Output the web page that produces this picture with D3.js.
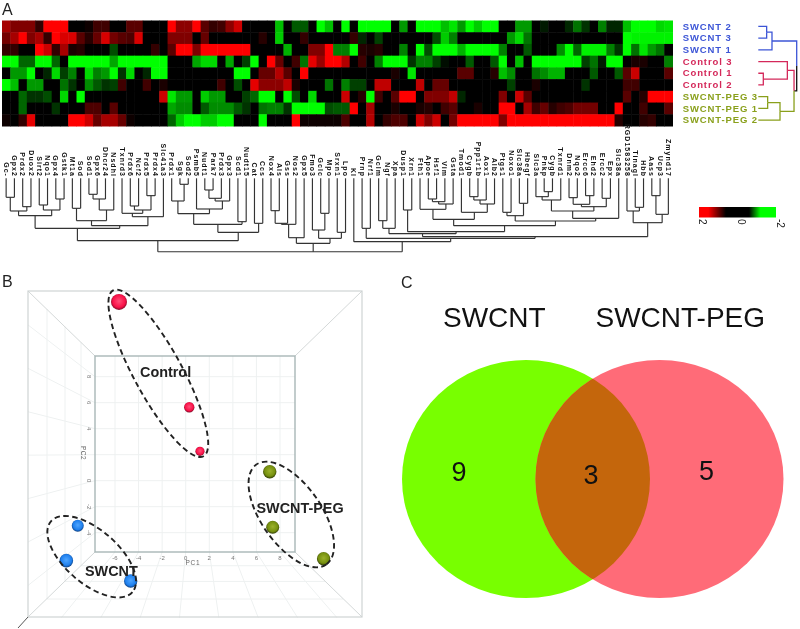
<!DOCTYPE html>
<html><head><meta charset="utf-8">
<script src="https://cdnjs.cloudflare.com/ajax/libs/d3/7.8.5/d3.min.js"></script>
<style>html,body{margin:0;padding:0;background:#fff}svg{display:block;filter:blur(.45px)}text{font-family:"Liberation Sans",Arial,sans-serif}</style>
</head><body><div id="chart"></div>
<script>
// ---------- Panel A data ----------
const rowLabels = ["SWCNT 2","SWCNT 3","SWCNT 1","Control 3","Control 1","Control 2","SWCNT-PEG 3","SWCNT-PEG 1","SWCNT-PEG 2"];
const rowGroups = ["SWCNT","SWCNT","SWCNT","Control","Control","Control","PEG","PEG","PEG"];
const geneLabels = ["Gc-","Gpx2","Prdx2","Duox2","Sirt2","Nqo1","Gpx4","Gstk1","Mt1a","Sod","Sod1","Gpx6","Dhcr24","Nsdhl","Txnrd3","Prdx6","Ncf2","Prdx5","Prdx4","Slc41a3","Prdx1","Sgk","Sod2","Psmb5","Nudt1","Park7","Prdx3","Gpx3","Scd1","Nudt15","Cat","Ccs","Nox4","Als","Gss","Nos2","Gpx5","Fmo3","Gclc","Mpo","Srxn1","Lpo","Kl","Prnp","Nrf1","Gclm","Ngf","Xpa","Dusp1","Xrn1","Fth1","Apoe","Hsf1","Vim","Gsta","Tmod1","Cygb","Ppp1r1b","Aox1","Alb2","Ptgs1","Noxo1","Slc38a","Hbegf","Slc3a","Pnkp","Cygb","Txnrd1","Dnm2","Nqo2","Ercc6","Ehd2","Ercc2","Epx","Slc38a","RGD1583258","Tinagl","Hbb","Aass","Ucp3","Zmynd17"];
const row0 = [1.3,1,1,1,.4,2,2,2,0,0,
 .1,.5,.5,0,0,.7,.7,0,0,0,
 2,1.1,1.1,2,.7,.4,.5,1.1,1.6,0,
 0,0,0,-1.5,0,-.7,-.7,0,-2,-1.5,
 0,-2,0,-2,-2,-2,-2,0,-1.2,0,
 -2,-2,-2,-1.5,-1.8,-1.2,-2,-1.6,-2,-2,
 0,0,-1.2,-1.2,0,-.2,0,0,-.3,-.9,
 -.4,0,-1,-.3,-.3,-1.5,-2,-2,-2,-1.7,
 -1.8];
const row1 = [.9,1.3,2,1,1.3,.4,2,1.7,1.7,.7,
 .3,.8,1.7,.9,.7,.6,1.7,0,0,0,
 1,1,1,0,.8,0,0,0,0,0,
 0,.3,0,-1.6,0,0,.4,0,0,0,
 0,0,.4,-.3,0,-.5,0,0,0,0,
 0,0,-.6,-1.6,-1,0,0,0,0,0,
 0,-1.2,-1.7,-.9,0,0,0,0,0,0,
 0,0,0,0,0,-2,-1.9,-1.9,-1.9,-1.9,
 -1.9];
const row2 = [.4,.4,0,0,2,1.6,.4,1.3,.2,.3,
 0,0,0,-.6,0,0,0,0,.4,0,
 .7,2,2,1,2,2,2,2,2,2,
 0,0,0,0,-1.4,0,0,1,1,2,
 -1,-1,-2,.3,.2,.3,0,0,-1,0,
 -2,-.6,-2,-2,-2,-1.4,-2,-2,-2,-2,
 -1,0,0,-.7,0,0,0,-1.1,-2,-.8,
 -1.9,-1.9,-1.9,-1,-.4,-2,-.9,-1.8,-1.2,-.9,
 0];
const row3 = [-2,-2,-.8,-.8,-2,-2,-.8,0,-2,-2,
 -2,-2,-2,-1.3,-2,-2,-2,-2,-2,-2,
 0,0,0,-1.3,-1.7,-1.7,0,-1.3,0,-.5,
 -2,0,2,.8,0,.5,-.9,1.8,1.2,2,
 2,1.4,0,.5,0,-1,-2,-2,-2,-.4,
 -1,-1,-.5,-.1,0,0,-.7,0,0,-.7,
 -2,0,-1.5,0,-2,-2,-2,-2,-2,-2,
 -.5,-.9,-.2,-2,-2,0,.2,.2,0,0,
 -1];
const row4 = [0,-1.2,-1.2,-2,0,-.3,-1.7,-.5,-1,0,
 -1.7,-1,-1.2,-2,-.4,-1.7,0,-.3,-2,-2,
 0,0,0,0,0,0,0,0,-2,-2,
 0,.8,.8,1.4,.7,0,2,0,0,0,
 0,0,0,0,0,0,0,.2,0,-1.8,
 0,0,0,0,0,.7,.7,0,0,.3,
 -1.5,-1.1,0,0,-.9,-1.1,-1.4,-1.4,0,0,
 0,-.7,0,0,-.7,.7,1.6,0,0,0,
 .7];
const row5 = [-2,-1.5,0,-1.2,-1.2,0,0,-.9,-.4,0,
 -1.1,-.7,-.4,-.5,.5,0,0,.5,0,.2,
 0,0,0,0,0,0,.5,0,-.6,0,
 1.8,1.1,1.1,1.1,1.5,.2,0,0,0,-.9,
 0,-1,-.5,-.5,0,1.5,1.5,0,0,0,
 1.5,0,.8,.8,0,0,0,0,0,0,
 0,-.5,0,0,.2,0,0,0,0,0,
 -.4,0,0,0,0,.5,.5,0,0,0,
 0];
const row6 = [0,0,-.8,-.4,-.4,-.6,0,-1.7,0,-2,
 0,0,0,0,0,0,0,0,0,1.6,
 -1.8,-1.2,-1.2,0,-1.6,-1.2,-1.2,0,0,-.5,
 -.8,-2,-2,0,-2,-.6,0,-1.7,0,0,
 0,1.6,0,.3,-2,.5,0,.7,2,2,
 0,1,1,1,1.5,-.3,0,0,0,0,
 1,0,1.6,.7,0,0,0,0,0,0,
 0,0,0,0,0,.7,0,.3,2,2,
 2];
const row7 = [0,0,-.8,0,0,0,-.4,0,0,0,
 .6,.6,0,.7,0,0,0,0,0,0,
 -1.3,-1.1,-1.1,0,-.7,-1.1,-1.1,-1.1,-.7,-.4,
 0,-.9,-1,-1,-.4,-2,-2,-2,-2,-.6,
 -.7,-.7,2,0,1.3,0,0,.2,0,0,
 .2,.3,0,.5,.7,0,0,.2,0,0,
 2,2,0,1.3,.5,.8,.3,.5,.6,.9,
 .9,.9,0,0,2,0,0,.5,0,0,
 .7];
const row8 = [.1,0,.4,1.8,0,0,0,0,2,2,
 1.6,.8,1.3,1.3,.8,.1,0,0,0,0,
 -.8,-1.6,-2,-2,-1.6,-1.6,-2,-2,0,0,
 0,-2,0,0,0,2,.1,.1,.1,.1,
 .1,.6,0,0,1.4,0,.4,.6,.6,0,
 1.6,1,1.6,0,.9,2,2,2,2,2,
 1,2,2,2,2,2,2,2,2,2,
 2,2,2,2,.3,0,0,.3,.4,0,
 0];
const heatRows = [row0,row1,row2,row3,row4,row5,row6,row7,row8];
// Dendrograms: [merge distance, child, child, ...]; a plain number is a leaf index
const geneTreeLeft = [187,
 [150,
  [112,[98,[57,0,1],[85,2,3]],[95,[80,4,5],[62,6,7]]],
  [142,
   [127,[90,8,9],[95,[62,[48,10,11],12],13]],
   [115,[105,14,[95,[83,15,16],[52,17,18]]],19]]],
 [162,[138,[106,[68,20,[18,21,22]],[92,23,[68,[60,[35,24,25],26],27]]],[130,28,29]],[135,30,31]]];
const geneTreeMid = [195,
 [178,[138,[135,[97,32,33],34],35],36],
 [180,[155,37,[105,38,39]],[162,40,41]]];
const geneTreeRight = [190,42,
 [180,[150,43,44],
  [175,
   [166,[150,[127,45,46],47],
    [160,[95,48,49],
     [142,
      [123,[93,50,[77,[70,[62,51,52],53],54]],[102,55,[77,[65,[55,56,57],58],59]]],
      [128,[112,[102,60,61],[75,62,63]],
       [120,[98,[65,[55,64,[40,65,66]],67],[85,[78,[58,68,69],[52,70,71]],[60,72,73]]],74]]]]],
   [133,[98,75,[87,76,77]],[108,[52,78,79],80]]]]];
const geneTree = [220,geneTreeLeft,geneTreeMid,geneTreeRight];
const sampleTree = [115,[41,[25,0,1],2],[107,[87,3,[15,4,5]],[65,[28,6,7],8]]];
const legendTicks = [2,0,-2];
// ---------- Panel B data ----------
const pcaGroups = ["Control","Control","Control","PEG","PEG","PEG","SWCNT","SWCNT","SWCNT"];
const pc1Values = [-5.66,0.30,1.21,7.13,7.38,11.7,-9.16,-10.13,-4.67];
const pc2Values = [13.75,5.65,2.26,0.69,-3.58,-6.0,-3.46,-6.15,-7.72];
const pcaSizes = [8,5.2,4.6,6.7,6.5,6.7,6,6.8,6.7];
const pc1Ticks = [-6,-4,-2,0,2,4,6,8];
const pc2Ticks = [8,6,4,2,0,-2,-4];
// ---------- Panel C data ----------
const vennLabels = ["9","3","5"];
const vennSets = ["SWCNT","SWCNT-PEG"];

const W=800,H=629;
const svg=d3.select("#chart").append("svg").attr("width",W).attr("height",H).attr("viewBox",`0 0 ${W} ${H}`);
const defs=svg.append("defs");
const panelLabel=(t,x,y)=>svg.append("text").attr("x",x).attr("y",y).attr("font-size",16).attr("fill","#222").text(t);
panelLabel("A",2,15);panelLabel("B",2,287);panelLabel("C",401,288);

// ===== Heatmap =====
const heat=d3.scaleLinear().domain([-2,0,2]).range(["#00ff00","#000000","#ff0000"]).clamp(true);
const xCol=d3.scaleBand().domain(d3.range(geneLabels.length)).range([2,672.5]);
const yRow=d3.scaleBand().domain(d3.range(rowLabels.length)).range([20.5,126]);
const hb=defs.append("filter").attr("id","heatBlur").attr("x","-1%").attr("y","-2%").attr("width","102%").attr("height","104%").attr("color-interpolation-filters","sRGB");
hb.append("feGaussianBlur").attr("stdDeviation",.6);
svg.append("g").attr("filter","url(#heatBlur)").selectAll("g").data(heatRows).join("g").each(function(r,i){
  d3.select(this).selectAll("rect").data(r).join("rect")
   .attr("x",(d,j)=>xCol(j)).attr("y",yRow(i)).attr("width",xCol.bandwidth()+.5).attr("height",yRow.bandwidth()+.5)
   .attr("fill",d=>heat(d));
});

// generic dendrogram layout
function layoutTree(data,leafPos){
  const root=d3.hierarchy(data,d=>Array.isArray(d)?d.slice(1):null);
  root.eachAfter(n=>{
    if(n.children){const e=d3.extent(n.children,c=>c.pos);n.pos=(e[0]+e[1])/2;n.dist=n.data[0];n.leaves_=n.leaves().map(l=>l.data);}
    else{n.pos=leafPos(n.data);n.dist=0;n.leaves_=[n.data];}
  });
  return root;
}
// ===== Gene dendrogram =====
const distY=d3.scaleLinear().domain([0,220]).range([178.3,251.7]);
const gTree=layoutTree(geneTree,k=>xCol(k)+xCol.bandwidth()/2);
const gg=svg.append("g").attr("fill","none").attr("stroke","#333").attr("stroke-width",1.15);
gTree.each(n=>{
  if(!n.children)return;
  const e=d3.extent(n.children,c=>c.pos);
  gg.append("path").attr("d",`M${e[0]},${distY(n.dist)}H${e[1]}`);
  n.children.forEach(c=>gg.append("path").attr("d",`M${c.pos},${distY(c.dist)}V${distY(n.dist)}`));
});
svg.append("g").selectAll("text").data(geneLabels).join("text")
  .attr("transform",(d,i)=>`translate(${xCol(i)+xCol.bandwidth()/2-2.4},177) rotate(90)`)
  .attr("text-anchor","end").attr("font-size",7).attr("font-weight","bold").attr("letter-spacing",1.05).attr("fill","#111").text(d=>d);

// ===== Sample labels and dendrogram =====
const groupColor={SWCNT:"#3c55d6",Control:"#d4285a",PEG:"#8aa01c"};
svg.append("g").selectAll("text").data(rowLabels).join("text")
  .attr("x",682.7).attr("y",(d,i)=>yRow(i)+yRow.bandwidth()/2+3.2)
  .attr("font-size",9.5).attr("font-weight","bold").attr("letter-spacing",.9)
  .attr("fill",(d,i)=>groupColor[rowGroups[i]]).text(d=>d);
const distX=d3.scaleLinear().domain([0,115]).range([758.3,796.7]);
const sTree=layoutTree(sampleTree,k=>yRow(k)+yRow.bandwidth()/2);
const colorOf=n=>{const s=new Set(n.leaves_.map(l=>rowGroups[l]));return s.size===1?groupColor[[...s][0]]:"#111";};
const sg=svg.append("g").attr("fill","none").attr("stroke-width",1.3);
sTree.each(n=>{
  if(!n.children)return;
  n.children.forEach(c=>{
    sg.append("path").attr("stroke",colorOf(c)).attr("d",`M${distX(c.dist)},${c.pos}H${distX(n.dist)}V${n.pos}`);
  });
});
// ===== Colour legend =====
const lg=defs.append("linearGradient").attr("id","legendGrad");
[[0,"#ff0000"],[.12,"#ff0000"],[.35,"#000000"],[.65,"#000000"],[.8,"#00ff00"],[1,"#00ff00"]]
  .forEach(s=>lg.append("stop").attr("offset",s[0]).attr("stop-color",s[1]));
svg.append("rect").attr("x",699).attr("y",207).attr("width",77).attr("height",10.5).attr("fill","url(#legendGrad)");
const legendX=d3.scaleLinear().domain([2,-2]).range([702,780]);
svg.append("g").selectAll("text").data(legendTicks).join("text")
  .attr("transform",d=>`translate(${legendX(d)-3.5},219) rotate(90)`).attr("font-size",10).attr("fill","#222").text(d=>d);

// ===== Panel B: 3D PCA box =====
const bx=svg.append("g");
const outer={x0:28,x1:362,y0:291,y1:617},inner={x0:95,x1:295,y0:356,y1:552};
const vp=[(inner.x0+inner.x1)/2,(inner.y0+inner.y1)/2];
const K=(outer.x1-outer.x0)/(inner.x1-inner.x0);
const proj=(x,y,k)=>[vp[0]+(x-vp[0])*k,vp[1]+(y-vp[1])*k];
const xPC=d3.scaleLinear().domain([-6,8]).range([115,280]);
const yPC=d3.scaleLinear().domain([8,-4]).range([376.7,532.7]);
const gridC="#eef1f1";
const ln=(a,b,c,w)=>bx.append("line").attr("x1",a[0]).attr("y1",a[1]).attr("x2",b[0]).attr("y2",b[1]).attr("stroke",c).attr("stroke-width",w||1);
const depthK=[1.14,1.3,1.48];
pc1Ticks.forEach(t=>{
  ln([xPC(t),inner.y0],[xPC(t),inner.y1],gridC);
  ln([xPC(t),inner.y1],proj(xPC(t),inner.y1,K),gridC);
});
pc2Ticks.forEach(t=>{
  ln([inner.x0,yPC(t)],[inner.x1,yPC(t)],gridC);
  ln([inner.x0,yPC(t)],proj(inner.x0,yPC(t),K),gridC);
});
depthK.forEach(k=>{
  ln(proj(inner.x0,inner.y1,k),proj(inner.x1,inner.y1,k),gridC);
  ln(proj(inner.x0,inner.y0,k),proj(inner.x0,inner.y1,k),gridC);
});
[[inner.x0,inner.y0,outer.x0,outer.y0],[inner.x1,inner.y0,outer.x1,outer.y0],[inner.x0,inner.y1,outer.x0,outer.y1],[inner.x1,inner.y1,outer.x1,outer.y1]]
  .forEach(s=>ln([s[0],s[1]],[s[2],s[3]],"#d4d8d8",1));
bx.append("rect").attr("x",outer.x0).attr("y",outer.y0).attr("width",outer.x1-outer.x0).attr("height",outer.y1-outer.y0).attr("fill","none").attr("stroke","#cfd4d4").attr("stroke-width",1.2);
bx.append("rect").attr("x",inner.x0).attr("y",inner.y0).attr("width",inner.x1-inner.x0).attr("height",inner.y1-inner.y0).attr("fill","none").attr("stroke","#a9b7b7").attr("stroke-width",1.4);
ln([outer.x0,outer.y1],[18,628],"#555",1);
bx.selectAll("text.xt").data(pc1Ticks).join("text").attr("class","xt").attr("x",d=>xPC(d)).attr("y",559.5).attr("text-anchor","middle").attr("font-size",6).attr("fill","#777").text(d=>d);
pc2Ticks.filter(t=>t!==2).forEach(t=>bx.append("text").attr("transform",`translate(87,${yPC(t)}) rotate(90)`).attr("text-anchor","middle").attr("font-size",6).attr("fill","#777").text(t));
bx.append("text").attr("x",193).attr("y",565).attr("text-anchor","middle").attr("font-size",6.5).attr("letter-spacing",.8).attr("fill","#666").text("PC1");
bx.append("text").attr("transform",`translate(81,453) rotate(90)`).attr("text-anchor","middle").attr("font-size",6.5).attr("letter-spacing",.5).attr("fill","#666").text("PC2");
// spheres
const sphere={Control:["#ff4f78","#fa1148","#7d0c28"],PEG:["#9cb22c","#76900f","#2f3a05"],SWCNT:["#4fa6ff","#1f80ee","#0d3f80"]};
Object.keys(sphere).forEach(k=>{
  const g=defs.append("radialGradient").attr("id","sph"+k).attr("cx","50%").attr("cy","45%").attr("r","55%");
  g.append("stop").attr("offset",0).attr("stop-color",sphere[k][0]);
  g.append("stop").attr("offset",.7).attr("stop-color",sphere[k][1]);
  g.append("stop").attr("offset",1).attr("stop-color",sphere[k][2]);
});
bx.append("g").selectAll("circle").data(pcaGroups).join("circle")
  .attr("cx",(d,i)=>xPC(pc1Values[i])).attr("cy",(d,i)=>yPC(pc2Values[i])).attr("r",(d,i)=>pcaSizes[i])
  .attr("fill",d=>`url(#sph${d})`);
// group ellipses and labels
[[158.3,373.3,94.5,24,61.4],[291.3,514.5,61,30,55],[91.7,556.7,54,26.7,41]].forEach(e=>{
  bx.append("ellipse").attr("transform",`translate(${e[0]},${e[1]}) rotate(${e[4]})`).attr("rx",e[2]).attr("ry",e[3])
    .attr("fill","none").attr("stroke","#222").attr("stroke-width",1.9).attr("stroke-dasharray","5.5 3.5");
});
[["Control",140,377],["SWCNT-PEG",256.5,513],["SWCNT",85,576]].forEach(t=>{
  bx.append("text").attr("x",t[1]).attr("y",t[2]).attr("font-size",14.4).attr("font-weight","bold").attr("fill","#222").text(t[0]);
});

// ===== Panel C: Venn =====
const vennX=d3.scaleOrdinal().domain(vennSets).range([526,659.5]);
const vg=svg.append("g");
defs.append("clipPath").attr("id","vclip").append("ellipse").attr("cx",vennX(vennSets[0])).attr("cy",479).attr("rx",124).attr("ry",119);
vg.append("ellipse").attr("cx",vennX(vennSets[0])).attr("cy",479).attr("rx",124).attr("ry",119).attr("fill","#78ff00");
vg.append("ellipse").attr("cx",vennX(vennSets[1])).attr("cy",479).attr("rx",124).attr("ry",119).attr("fill","#ff6b78");
vg.append("ellipse").attr("cx",vennX(vennSets[1])).attr("cy",479).attr("rx",124).attr("ry",119).attr("fill","#c4660c").attr("clip-path","url(#vclip)");
vg.selectAll("text.set").data(vennSets).join("text").attr("class","set").attr("x",(d,i)=>[443,595.5][i]).attr("y",326.5).attr("font-size",28).attr("fill","#111").text(d=>d);
vg.selectAll("text.num").data(vennLabels).join("text").attr("class","num").attr("x",(d,i)=>[459,591,706.5][i]).attr("y",(d,i)=>[481,483.5,480][i]).attr("text-anchor","middle").attr("font-size",27).attr("fill","#111").text(d=>d);
</script></body></html>
